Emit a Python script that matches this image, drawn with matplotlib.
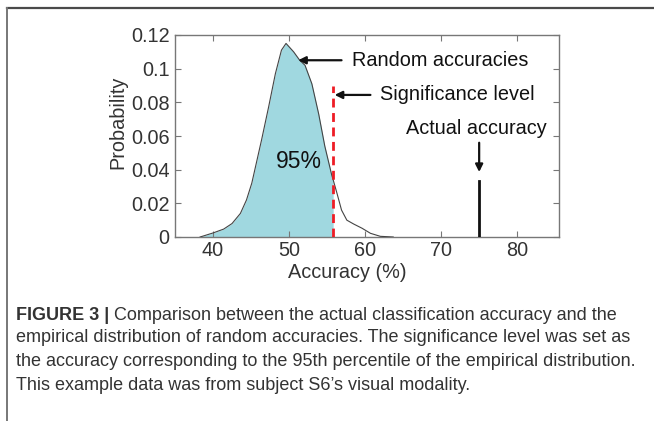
import matplotlib
matplotlib.use("Agg")
import matplotlib.pyplot as plt
from matplotlib.lines import Line2D
from matplotlib import font_manager

# Empirical distribution of random (permutation) accuracies
accuracy = [38.3, 40.0, 41.4, 42.5, 43.6, 44.4, 45.1, 45.7, 46.4, 47.3, 48.2, 49.0,
            49.6, 50.6, 51.4, 52.1, 53.0, 53.9, 54.7, 55.6, 55.8, 56.3, 56.9, 57.6,
            58.5, 59.6, 60.7, 62.0, 63.7]
probability = [0.0, 0.0024, 0.0047, 0.008, 0.014, 0.022, 0.032, 0.044, 0.058, 0.077,
               0.097, 0.111, 0.115, 0.110, 0.105, 0.102, 0.091, 0.073, 0.054, 0.037,
               0.034, 0.026, 0.016, 0.010, 0.0077, 0.0052, 0.0022, 0.0004, 0.0]

significance_level = 55.8
significance_top = 0.09
actual_accuracy = 75.0
actual_top = 0.033

x_ticks = [40, 50, 60, 70, 80]
y_ticks = [0, 0.02, 0.04, 0.06, 0.08, 0.1, 0.12]
y_tick_labels = ["0", "0.02", "0.04", "0.06", "0.08", "0.1", "0.12"]

caption_bold = "FIGURE 3 |"
caption_lines = [
    " Comparison between the actual classification accuracy and the",
    "empirical distribution of random accuracies. The significance level was set as",
    "the accuracy corresponding to the 95th percentile of the empirical distribution.",
    "This example data was from subject S6\u2019s visual modality.",
]

plt.rcParams["font.family"] = ["Liberation Sans", "DejaVu Sans"]

installed = {f.name for f in font_manager.fontManager.ttflist}
caption_family = ["Liberation Sans Narrow", "Liberation Sans", "DejaVu Sans"]
caption_family = [f for f in caption_family if f in installed] or ["DejaVu Sans"]

W, H = 654, 421
fig = plt.figure(figsize=(W / 100, H / 100), dpi=100)
fig.patch.set_facecolor("white")

ax = fig.add_axes([175 / W, 1 - 237 / H, 384 / W, 202 / H])
ax.set_xlim(35, 85.5)
ax.set_ylim(0, 0.12)

# Shaded region up to the significance level
fill_x = [a for a in accuracy if a <= significance_level]
fill_y = probability[:len(fill_x)]
ax.fill_between(fill_x, fill_y, 0, color="#a0d8e0", linewidth=0, zorder=1)
ax.plot(accuracy, probability, color="#444444", lw=0.8, zorder=3)

ax.plot([significance_level, significance_level], [0, significance_top],
        color="#ee1c25", lw=2.0, ls=(0, (3.2, 2.0)), zorder=4)
ax.plot([actual_accuracy, actual_accuracy], [0, actual_top],
        color="#111111", lw=2.0, zorder=4)

# Axes styling
for sp in ax.spines.values():
    sp.set_color("#777777")
    sp.set_linewidth(1.0)
ax.set_xticks(x_ticks)
ax.set_yticks(y_ticks)
ax.set_yticklabels(y_tick_labels)
ax.tick_params(direction="in", length=4, width=0.8, color="#777777",
               labelcolor="#333333", labelsize=14.3, top=True, right=True, pad=4)
ax.tick_params(axis="x", pad=3)

ax.set_xlabel("Accuracy (%)", fontsize=14.3, color="#333333")
ax.xaxis.set_label_coords(0.45, -0.13)
ax.set_ylabel("Probability", fontsize=14.3, color="#333333")
ax.yaxis.set_label_coords(-0.125, 0.567)

# Annotations
ann_size = 14.3
arrow = dict(arrowstyle="-|>", color="#111111", lw=1.6, mutation_scale=11,
             shrinkA=0, shrinkB=0)
ax.annotate("", xy=(51.2, 0.105), xytext=(56.9, 0.105), arrowprops=arrow)
ax.text(58.3, 0.105, "Random accuracies", fontsize=ann_size, color="#111111",
        ha="left", va="center")
ax.annotate("", xy=(56.0, 0.0844), xytext=(60.7, 0.0844), arrowprops=arrow)
ax.text(62.0, 0.0844, "Significance level", fontsize=ann_size, color="#111111",
        ha="left", va="center")
ax.text(74.6, 0.0642, "Actual accuracy", fontsize=ann_size, color="#111111",
        ha="center", va="center")
ax.annotate("", xy=(75.0, 0.0386), xytext=(75.0, 0.056), arrowprops=arrow)
ax.text(51.3, 0.0446, "95%", fontsize=16.5, color="#111111", ha="center", va="center")

# Frame around the figure panel
fig.add_artist(Line2D([7 / W, 1.0], [1 - 8 / H, 1 - 8 / H], transform=fig.transFigure,
                      color="#4a4a4a", lw=1.6))
fig.add_artist(Line2D([7 / W, 7 / W], [1 - 8 / H, 0.0], transform=fig.transFigure,
                      color="#777777", lw=1.4))

# Caption, sized so that the longest line spans the panel width
cap_color = "#333333"
cap_left, cap_right = 16, 635
line_y = [315, 338, 362, 385]
fig.canvas.draw()
renderer = fig.canvas.get_renderer()
probe = fig.text(0, 0, caption_lines[2], fontsize=12, family=caption_family)
probe_w = probe.get_window_extent(renderer).width
probe.remove()
cap_size = 12 * (cap_right - cap_left) / probe_w

t_bold = fig.text(cap_left / W, 1 - line_y[0] / H, caption_bold, fontsize=cap_size,
                  fontweight="bold", family=caption_family, color=cap_color,
                  ha="left", va="center")
bb = t_bold.get_window_extent(renderer)
fig.text(bb.x1 / W, 1 - line_y[0] / H, caption_lines[0], fontsize=cap_size,
         family=caption_family, color=cap_color, ha="left", va="center")
for txt, y in zip(caption_lines[1:], line_y[1:]):
    fig.text(cap_left / W, 1 - y / H, txt, fontsize=cap_size, family=caption_family,
             color=cap_color, ha="left", va="center")

fig.savefig("out.png", dpi=100, facecolor="white")
